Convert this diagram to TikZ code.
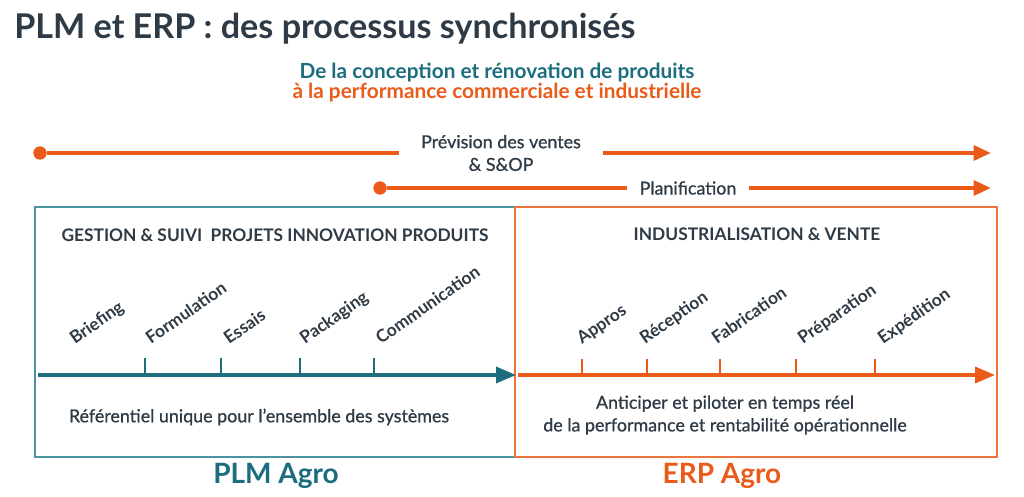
\documentclass[tikz,border=0pt]{standalone}
\usepackage{fontspec}
\setmainfont{Lato}
\newfontface\medfont{Lato}[FakeBold=0.8]
\usetikzlibrary{arrows.meta, positioning}
\definecolor{plmteal}{HTML}{1C6E7E}
\definecolor{plmline}{HTML}{4A93A3}
\definecolor{erporange}{HTML}{EA5B1A}
\definecolor{txtdark}{HTML}{2E3A45}
\tikzset{
	flow/.style={draw=erporange, line width=3pt, -{Triangle[length=13pt, width=11pt]}},
	flowtxt/.style={text=txtdark, font=\fontsize{13.4}{16}\medfont, align=center, inner sep=0pt},
	startdot/.style={circle, fill=erporange, minimum size=10pt, inner sep=0pt},
	axis/.style={line width=2.6pt, -{Triangle[length=15pt, width=12pt]}},
	tick/.style={line width=1.6pt},
	steplbl/.style={rotate=35, anchor=base west, inner sep=0pt, text=txtdark, font=\fontsize{13}{15}\selectfont\bfseries},
	heading/.style={text=txtdark, font=\fontsize{13}{15}\selectfont\bfseries},
	bodytxt/.style={text=txtdark, font=\fontsize{13.4}{14}\medfont, align=center},
}

\begin{document}
\begin{tikzpicture}[x=0.75pt, y=-0.75pt]
	\useasboundingbox[fill=white] (0,0) rectangle (1024,496);
	\def\ya{153}
	\def\yb{188}
	\def\yx{375}
	\def\yl{345}
	% titres
	\node[anchor=base west, inner sep=0pt, text=txtdark, font=\fontsize{25.6}{30}\selectfont\bfseries] (title) at (14,38) {PLM et ERP : des processus synchronisés};
	\node[text=plmteal, font=\fontsize{15.6}{18}\selectfont\bfseries] (sub1) at (497,73) {De la conception et rénovation de produits};
	\node[text=erporange, font=\fontsize{15.6}{18}\selectfont\bfseries] (sub2) at (497,93) {à la performance commerciale et industrielle};
%%%%
	\node[startdot] (dot1) at (40,\ya) {};
	\node[flowtxt, inner xsep=22pt*0.75] (prev) at (501,\ya) {Prévision des ventes\\[1pt]\& S\&OP};
	\coordinate (end1) at (991,\ya);
	\draw[draw=erporange, line width=3pt] (dot1) -- (prev.west);
	\draw[flow] (prev.east) -- (end1);
	\node[startdot] (dot2) at (380,\yb) {};
	\node[flowtxt, inner xsep=12pt*0.75] (plan) at (688,\yb) {Planification};
	\coordinate (end2) at (991,\yb);
	\draw[draw=erporange, line width=3pt] (dot2) -- (plan.west);
	\draw[flow] (plan.east) -- (end2);
%%%%
	\draw[draw=plmline, line width=1pt] (35,207) rectangle (515,457);
	\draw[draw=erporange!85, line width=1pt] (515,207) rectangle (997,457);
	\node[heading] (hplm) at (275,235) {GESTION \& SUIVI\ \ PROJETS INNOVATION PRODUITS};
	\node[heading] (herp) at (757,234) {INDUSTRIALISATION \& VENTE};
%%%%
	\coordinate (ax1s) at (38,\yx);
	\coordinate (ax1e) at (516,\yx);
	\draw[axis, draw=plmteal, fill=plmteal] (ax1s) -- (ax1e);
	\draw[tick, plmteal] (145,\yx) -- (145,358);
	\draw[tick, plmteal] (221,\yx) -- (221,358);
	\draw[tick, plmteal] (300,\yx) -- (300,358);
	\draw[tick, plmteal] (374,\yx) -- (374,358);
	\node[steplbl] (brief) at (75,\yl) {Briefing};
	\node[steplbl] (form) at (151,\yl) {Formulation};
	\node[steplbl] (ess) at (229,\yl) {Essais};
	\node[steplbl] (pack) at (305,\yl) {Packaging};
	\node[steplbl] (comm) at (381,\yl) {Communication};
%%%%
	\coordinate (ax2s) at (518,\yx);
	\coordinate (ax2e) at (995,\yx);
	\draw[axis, draw=erporange, fill=erporange] (ax2s) -- (ax2e);
	\draw[tick, erporange] (582,\yx) -- (582,359);
	\draw[tick, erporange] (647,\yx) -- (647,359);
	\draw[tick, erporange] (720,\yx) -- (720,359);
	\draw[tick, erporange] (796,\yx) -- (796,359);
	\draw[tick, erporange] (875,\yx) -- (875,359);
	\node[steplbl] (appr) at (582,\yl) {Appros};
	\node[steplbl] (recep) at (645,\yl) {Réception};
	\node[steplbl] (fabr) at (717,\yl) {Fabrication};
	\node[steplbl] (prep) at (803,\yl) {Préparation};
	\node[steplbl] (expe) at (883,\yl) {Expédition};
%%%%
	\node[bodytxt] (refu) at (259,417) {Référentiel unique pour l’ensemble des systèmes};
	\node[bodytxt] (antic) at (725,415) {Anticiper et piloter en temps réel\\[3pt]de la performance et rentabilité opérationnelle};
	\node[text=plmteal, font=\fontsize{21}{24}\selectfont\bfseries] (plm) at (276,476) {PLM Agro};
	\node[text=erporange, font=\fontsize{21}{24}\selectfont\bfseries] (erp) at (722,476) {ERP Agro};
\end{tikzpicture}
\end{document}
